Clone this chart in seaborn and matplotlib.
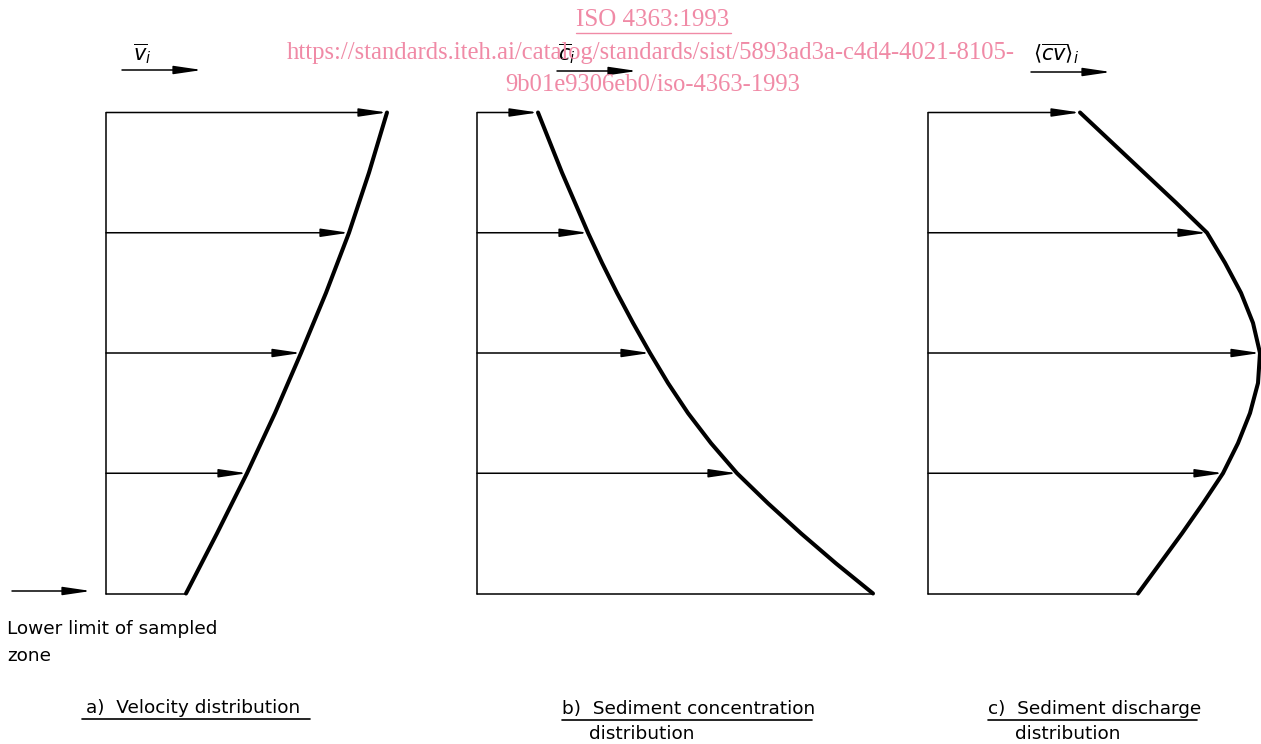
import numpy as np
import pandas as pd
import matplotlib
matplotlib.use("Agg")
import matplotlib.pyplot as plt
import seaborn as sns

# ---------------- data ----------------
# relative height above the lower limit of the sampled zone
heights_a = [0, 0.5, 1, 1.5, 2, 2.5, 3, 3.5, 4]
heights_bc = [0, 0.25, 0.5, 0.75, 1, 1.25, 1.5, 1.75, 2,
              2.25, 2.5, 2.75, 3, 3.25, 3.5, 3.75, 4]
arrow_levels = [1, 2, 3, 4]
# profile values (arbitrary units) at each height, bottom -> top
velocity = [80, 111, 141, 169, 195, 220, 243, 263, 281]
concentration = [396, 359, 324, 291, 260, 234, 211, 191, 173,
                 156, 140, 125, 111, 98, 85, 73, 61]
discharge = [210, 232, 254, 275, 295, 310, 322, 330, 332,
             325, 313, 297, 279, 248, 216, 184, 152]

symbols = [r"$\overline{v}_i$", r"$\overline{c}_i$", r"$\langle\overline{cv}\rangle_i$"]
captions = ["a)  Velocity distribution",
            "b)  Sediment concentration",
            "c)  Sediment discharge"]
caption_second = ["", "distribution", "distribution"]
lower_limit_text = ["Lower limit of sampled", "zone"]
wm_title = "ISO 4363:1993"
wm_lines = ["https://standards.iteh.ai/catalog/standards/sist/5893ad3a-c4d4-4021-8105-",
            "9b01e9306eb0/iso-4363-1993"]

# ---------------- figure ----------------
sns.set_theme(style="white")
plt.rcParams["font.family"] = ["DejaVu Sans"]
plt.rcParams["mathtext.fontset"] = "dejavusans"

W, H = 1261, 744
fig = plt.figure(figsize=(W / 100, H / 100), dpi=100)
fig.patch.set_facecolor("white")

bg = fig.add_axes([0, 0, 1, 1])
bg.set_xlim(0, W)
bg.set_ylim(H, 0)
bg.axis("off")

TOP, BOT = 112.5, 593.5
THIN = 1.1
THICK = 2.9
HEAD = "-|>,head_length=1.7,head_width=0.25"
TXT = 13.3


def arrow(ax, x0, y0, x1, y1, lw=THIN):
    ax.annotate("", xy=(x1, y1), xytext=(x0, y0),
                arrowprops=dict(arrowstyle=HEAD, lw=lw, color="black",
                                shrinkA=0, shrinkB=0, mutation_scale=10),
                annotation_clip=False)


def panel(x0, values, heights, width):
    ax = fig.add_axes([x0 / W, (H - BOT) / H, width / W, (BOT - TOP) / H])
    ax.set_xlim(0, width)
    ax.set_ylim(0, 4)
    ax.axis("off")
    df = pd.DataFrame({"value": values, "height": heights})
    # left reference line and bottom line
    ax.plot([0, 0], [0, 4], color="black", lw=THIN, clip_on=False)
    ax.plot([0, values[0]], [0, 0], color="black", lw=THIN, clip_on=False)
    # arrows
    for lev in arrow_levels:
        v = values[heights.index(lev)]
        arrow(ax, 0, lev, v, lev)
    # profile curve
    sns.lineplot(data=df, x="value", y="height", sort=False, estimator=None,
                 color="black", lw=THICK, ax=ax, clip_on=False)
    ax.lines[-1].set_solid_joinstyle("round")
    ax.set_xlabel("")
    ax.set_ylabel("")
    return ax


panel(106, velocity, heights_a, 300)
panel(477, concentration, heights_bc, 400)
panel(928, discharge, heights_bc, 340)

# symbols with pointer arrows
sym_x = [133, 558, 1033]
arr_x = [122, 557, 1031]
arr_y = [70, 71, 72]
for sx, ax0, ay, s in zip(sym_x, arr_x, arr_y, symbols):
    bg.text(sx, 54, s, fontsize=15, ha="left", va="center", color="black")
    arrow(bg, ax0, ay, ax0 + 80, ay)

# lower limit arrow + text
arrow(bg, 12, 591, 91, 591)
bg.text(7, 634, lower_limit_text[0], fontsize=TXT, ha="left", va="baseline", color="black")
bg.text(7, 661, lower_limit_text[1], fontsize=TXT, ha="left", va="baseline", color="black")

# captions
cap_x = [86, 562, 988]
cap_y = [713, 714, 714]
ul = [(82, 310, 719), (562, 812, 720), (988, 1197, 720)]
for cx, cy, c, c2, (u0, u1, uy) in zip(cap_x, cap_y, captions, caption_second, ul):
    bg.text(cx, cy, c, fontsize=TXT, ha="left", va="baseline", color="black")
    bg.plot([u0, u1], [uy, uy], color="black", lw=1.2)
    if c2:
        bg.text(cx + 27, 739, c2, fontsize=TXT, ha="left", va="baseline", color="black")

# watermark
pink = "#F08AA6"
bg.text(653, 20, wm_title, fontsize=18, ha="center", va="center", color=pink,
        family=["Liberation Serif"])
bg.plot([576, 731], [33, 33], color=pink, lw=1.0)
bg.text(651, 53, wm_lines[0], fontsize=17.7, ha="center", va="center", color=pink,
        family=["Liberation Serif"])
bg.text(653, 85, wm_lines[1], fontsize=17.7, ha="center", va="center", color=pink,
        family=["Liberation Serif"])

fig.savefig("out.png", dpi=100, facecolor="white")
